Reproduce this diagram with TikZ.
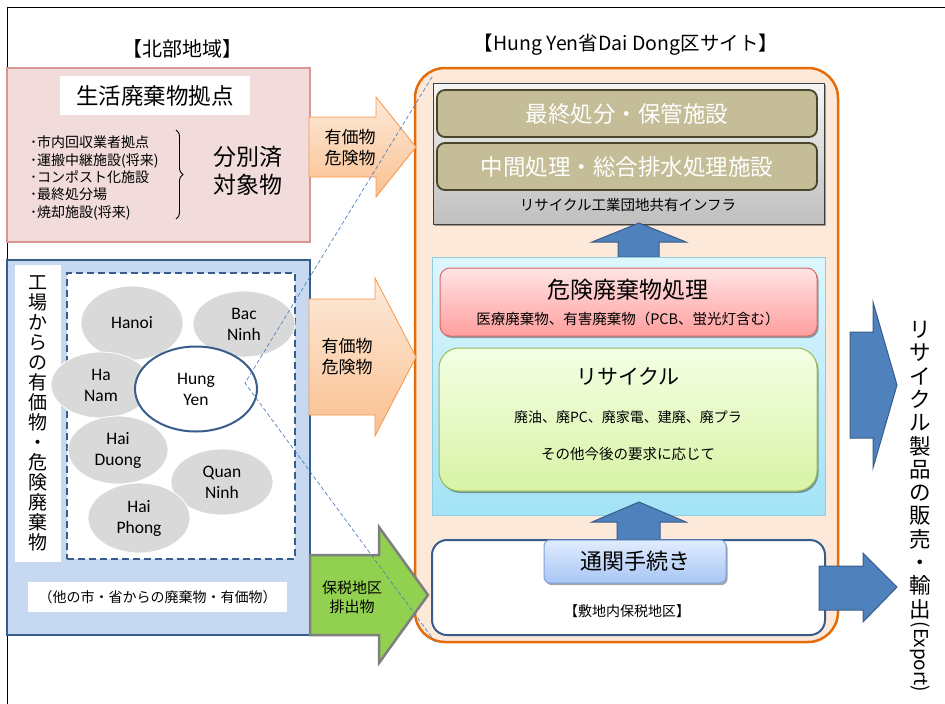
\documentclass[tikz,border=0pt]{standalone}
\usepackage{fontspec}
\setmainfont{Noto Sans CJK JP}
\newfontfamily\latf{Carlito}
\usetikzlibrary{shapes.geometric,decorations.pathreplacing,shadows}
\definecolor{pinkfill}{HTML}{F2DCDB}
\definecolor{pinkline}{HTML}{D99694}
\definecolor{bluefill}{HTML}{C6D9F1}
\definecolor{darkblue}{HTML}{385D8A}
\definecolor{cityg}{HTML}{D9D9D9}
\definecolor{orfill}{HTML}{FDE9D9}
\definecolor{orline}{HTML}{E46C0A}
\definecolor{khaki}{HTML}{C4BD97}
\definecolor{khakiline}{HTML}{494529}
\definecolor{arrowblue}{HTML}{4F81BD}
\definecolor{greenarrow}{HTML}{92D050}
\definecolor{grayline2}{HTML}{7F7F7F}
\definecolor{orarrline}{HTML}{F79646}
\definecolor{ortop}{HTML}{FDEADA}
\definecolor{orbot}{HTML}{FAC090}
\definecolor{graytop}{HTML}{F5F5F5}
\definecolor{graybot}{HTML}{BFBFBF}
\definecolor{grayline}{HTML}{404040}
\definecolor{cyantop}{HTML}{DDF6FD}
\definecolor{cyanbot}{HTML}{A2E3F6}
\definecolor{cyanline}{HTML}{93CDDD}
\definecolor{redtop}{HTML}{FFE4E4}
\definecolor{redbot}{HTML}{FF9E9E}
\definecolor{redline}{HTML}{D46B6B}
\definecolor{greentop}{HTML}{F4FFE4}
\definecolor{greenbot}{HTML}{D8F3A6}
\definecolor{greenline}{HTML}{9BBB59}
\definecolor{custop}{HTML}{E1ECFD}
\definecolor{cusbot}{HTML}{A7C6F5}
\definecolor{cusline}{HTML}{7FA3DA}
\tikzset{
 box/.style={anchor=north west, inner sep=0pt, outer sep=0pt},
 city/.style={ellipse, fill=cityg, draw=white, line width=0.8pt, inner sep=0pt, align=center, font=\latf\fontsize{17.5}{21}\selectfont},
 orarrow/.style={draw=orarrline, line width=0.8pt, top color=ortop, bottom color=orbot},
 bluearrow/.style={fill=arrowblue, draw=darkblue, line width=1pt},
 khakibox/.style={box, rounded corners=8pt, fill=khaki, draw=khakiline, line width=1.8pt, text=white, font=\fontsize{22.5}{26}\selectfont},
 shad/.style={drop shadow={shadow xshift=1.5pt, shadow yshift=-2pt, opacity=0.35, fill=black}},
}
\begin{document}
\begin{tikzpicture}[x=1pt,y=-1pt]
\useasboundingbox (0,0) rectangle (945,704);
\draw[line width=0.8pt] (7,704) -- (7,7) -- (945,7);

\node[font=\fontsize{20}{24}\selectfont] (tnorth) at (182,49) {【北部地域】};
\node[font=\fontsize{19.5}{24}\selectfont] (tsite) at (626,45) {【Hung Yen省Dai Dong区サイト】};

% pink
\node[box, fill=pinkfill, draw=pinkline, line width=2pt, minimum width=303, minimum height=174] (pink) at (7,68) {};
\node[box, fill=white, minimum width=190, minimum height=39] (lblbox) at (60,76) {};
\node[font=\fontsize{22.5}{26}\selectfont] (lbl) at (155,95.5) {生活廃棄物拠点};
\node[anchor=west, align=left, inner sep=0pt, font=\fontsize{14}{17.3}\selectfont] (list) at (30,178) {･市内回収業者拠点\\･運搬中継施設(将来)\\･コンポスト化施設\\･最終処分場\\･焼却施設(将来)};
\draw[decorate, decoration={brace, amplitude=7pt}, line width=0.9pt] (176,130) -- (176,219);
\node[align=center, font=\fontsize{23}{28}\selectfont] (sorted) at (248,171) {分別済\\対象物};

% blue
\node[box, fill=bluefill, draw=darkblue, line width=2pt, minimum width=303, minimum height=375] (bluebox) at (7,260) {};
\node[box, fill=white, minimum width=46, minimum height=297] (strip) at (15,265) {};
\node[align=center, font=\fontsize{19}{20}\selectfont] (vleft) at (38,413) {工\\場\\か\\ら\\の\\有\\価\\物\\・\\危\\険\\廃\\棄\\物};
\node[box, fill=white, draw=darkblue, dash pattern=on 7pt off 4pt, line width=2.2pt, minimum width=228, minimum height=286] (dash) at (67,273) {};

\node[city, minimum width=102, minimum height=74] (hanoi) at (132,323) {Hanoi};
\node[city, minimum width=102, minimum height=66] (bac) at (244,324) {Bac\\Ninh};
\node[city, minimum width=100, minimum height=66] (hanam) at (101,385) {Ha\\Nam};
\node[city, minimum width=100, minimum height=68] (haiduong) at (118,450) {Hai\\Duong};
\node[city, minimum width=102, minimum height=66] (quan) at (222,482) {Quan\\Ninh};
\node[city, minimum width=102, minimum height=70] (haiphong) at (139,518) {Hai\\Phong};
\node[city, fill=white, draw=darkblue, line width=2pt, minimum width=122, minimum height=85] (hungyen) at (196,389) {Hung\\Yen};

\node[box, fill=white, minimum width=259, minimum height=30] (notebox) at (28,582) {};
\node[font=\fontsize{14}{17}\selectfont] (note) at (157.5,597) {（他の市・省からの廃棄物・有価物）};

% site
\node[box, fill=orfill, draw=orline, line width=2.5pt, rounded corners=30pt, minimum width=423, minimum height=574] (site) at (415,68) {};

\node[box, top color=graytop, bottom color=graybot, draw=grayline, line width=0.8pt, minimum width=391, minimum height=141, shad] (infra) at (433,83) {};
\node[khakibox, minimum width=380, minimum height=47] (final) at (437,90) {最終処分・保管施設};
\node[khakibox, minimum width=380, minimum height=47] (mid) at (437,143) {中間処理・総合排水処理施設};
\node[font=\fontsize{14.5}{17}\selectfont] (infralbl) at (628,205) {リサイクル工業団地共有インフラ};

\draw[bluearrow] (618,257) -- (618,242) -- (592,242) -- (639,223) -- (686,242) -- (659,242) -- (659,257) -- cycle;

\node[box, top color=cyantop, bottom color=cyanbot, draw=cyanline, line width=0.8pt, minimum width=393, minimum height=258] (cyanbox) at (432,257) {};
\node[box, rounded corners=10pt, top color=redtop, bottom color=redbot, draw=redline, line width=1pt, minimum width=377, minimum height=68, shad] (haz) at (440,268) {};
\node[font=\fontsize{23}{27}\selectfont] (hazt) at (628,290) {危険廃棄物処理};
\node[font=\fontsize{14.5}{17}\selectfont] (hazs) at (628,319) {医療廃棄物、有害廃棄物（PCB、蛍光灯含む）};
\node[box, rounded corners=20pt, top color=greentop, bottom color=greenbot, draw=greenline, line width=1pt, minimum width=378, minimum height=143, shad] (rec) at (439,348) {};
\node[font=\fontsize{21}{25}\selectfont] (rect) at (628,377) {リサイクル};
\node[font=\fontsize{14}{17}\selectfont] (recs1) at (628,417) {廃油、廃PC、廃家電、建廃、廃プラ};
\node[font=\fontsize{14.5}{17}\selectfont] (recs2) at (628,454) {その他今後の要求に応じて};

\draw[bluearrow] (617,540) -- (617,522) -- (592,522) -- (639,502) -- (686,522) -- (660,522) -- (660,540) -- cycle;

\node[box, fill=white, draw=darkblue, line width=2pt, rounded corners=15pt, minimum width=393, minimum height=95] (bonded) at (432,540) {};
\node[box, rounded corners=6pt, top color=custop, bottom color=cusbot, draw=cusline, line width=1pt, minimum width=182, minimum height=43, shad, font=\fontsize{22}{26}\selectfont] (customs) at (544,540) {通関手続き};
\node[font=\fontsize{14}{17}\selectfont] (bondt) at (627,611) {【敷地内保税地区】};

% left arrows
\draw[orarrow] (309,117) -- (376,117) -- (376,97) -- (416,147) -- (376,197) -- (376,177) -- (309,177) -- cycle;
\node[align=center, font=\fontsize{17}{21}\selectfont] (a1t) at (350,148) {有価物\\危険物};
\draw[orarrow] (309,299) -- (375,299) -- (375,278) -- (416,357) -- (375,436) -- (375,415) -- (309,415) -- cycle;
\node[align=center, font=\fontsize{17}{21}\selectfont] (a2t) at (347,357) {有価物\\危険物};
\draw[fill=greenarrow, draw=grayline2, line width=2.5pt] (310,555) -- (379,555) -- (379,527) -- (428,595) -- (379,663) -- (379,635) -- (310,635) -- cycle;
\node[align=center, font=\fontsize{15}{19}\selectfont] (a3t) at (352,597.5) {保税地区\\排出物};

% right arrows
\draw[bluearrow] (850,332) -- (873,332) -- (873,302) -- (897,385) -- (873,468) -- (873,438) -- (850,438) -- cycle;
\draw[bluearrow] (819,566) -- (863,566) -- (863,553) -- (897,587) -- (863,622) -- (863,610) -- (819,610) -- cycle;

\node[align=center, font=\fontsize{21.5}{23.3}\selectfont] (vright) at (920,470) {リ\\サ\\イ\\ク\\ル\\製\\品\\の\\販\\売\\・\\輸\\出};
\node[rotate=-90, font=\fontsize{19}{22}\selectfont] (export) at (920,657) {(Export)};

% zoom lines
\coordinate (hyv) at (245,383);
\coordinate (zt) at (432,77);
\coordinate (zb) at (436,643);
\draw[arrowblue, line width=0.7pt, dash pattern=on 4pt off 2.5pt] (zt) -- (hyv) -- (zb);
\end{tikzpicture}
\end{document}
